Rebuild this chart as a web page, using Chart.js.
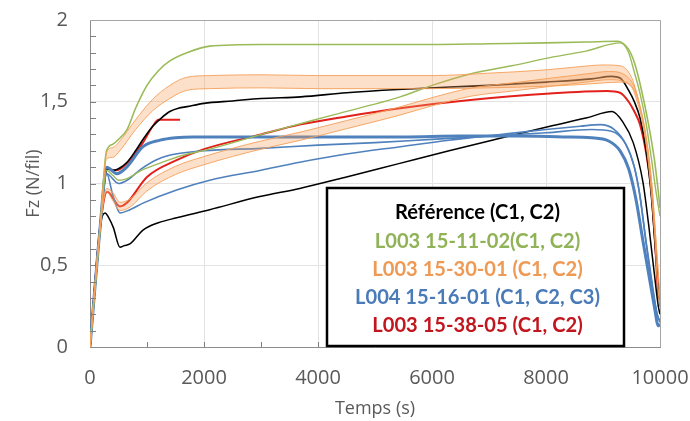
<!DOCTYPE html>
<html><head><meta charset="utf-8">
<script src="https://cdn.jsdelivr.net/npm/chart.js@4.4.1/dist/chart.umd.min.js"></script>
<style>html,body{margin:0;padding:0;background:#fff;}#wrap{width:690px;height:421px;position:relative;}</style>
</head><body><div id="wrap"><canvas id="c" width="690" height="421"></canvas></div>
<script>
// ---- tick labels / categories ----
const xTickValues = [0, 2000, 4000, 6000, 8000, 10000];
const yTickValues = [0, 0.5, 1, 1.5, 2];
const legendLabels = ['Référence (C1, C2)', 'L003 15-11-02(C1, C2)', 'L003 15-30-01 (C1, C2)', 'L004 15-16-01 (C1, C2, C3)', 'L003 15-38-05 (C1, C2)'];

// ---- Référence (black) ----
const refAT = [0,180,260,300,400,500,650,800,950,1100,1250,1400,1550,1700,2000,2500,3000,3700,4500,5400,6300,7000,8000,8800,9150,9300,9450,9550,9650,9750,9850,9930,10000];
const refAF = [0,0.74,1.02,1.09,1.08,1.09,1.13,1.2,1.28,1.35,1.40,1.44,1.46,1.47,1.49,1.505,1.52,1.53,1.555,1.575,1.59,1.60,1.62,1.64,1.655,1.645,1.57,1.50,1.40,1.22,0.92,0.55,0.25];
const refBT = [0,180,263,330,410,526,600,700,930,1200,1520,2100,2980,3680,4500,5400,6300,7000,8070,8700,9160,9350,9530,9700,9800,9900,9970,10000];
const refBF = [0,0.74,0.82,0.79,0.73,0.61,0.62,0.63,0.715,0.76,0.79,0.84,0.92,0.97,1.04,1.12,1.20,1.26,1.35,1.40,1.44,1.375,1.25,1.01,0.75,0.45,0.25,0.2];

// ---- L003 15-11-02 (green) ----
const gAT = [0,180,290,400,500,650,800,1000,1200,1400,1700,2100,3000,4000,5000,6000,7000,8000,8700,9250,9450,9550,9650,9800,9900,9970,10000];
const gAF = [0,0.74,1.2,1.24,1.27,1.33,1.46,1.6,1.69,1.75,1.80,1.84,1.85,1.85,1.85,1.85,1.855,1.86,1.865,1.87,1.82,1.74,1.61,1.36,1.15,0.95,0.85];
const gBT = [0,180,290,400,500,650,900,1230,1600,2100,3100,4270,5440,6000,6670,7400,8070,8700,9300,9450,9550,9650,9750,9850,9930,10000];
const gBF = [0,0.74,1.08,1.05,1.02,1.03,1.08,1.125,1.17,1.21,1.31,1.42,1.53,1.60,1.67,1.72,1.77,1.81,1.86,1.80,1.68,1.55,1.38,1.15,0.95,0.80];

// ---- L003 15-30-01 (orange, oscillating: upper / lower envelope) ----
const oAT  = [0,180,290,400,500,800,1100,1400,1700,2100,3000,4000,5000,6000,7000,8000,8600,9000,9300,9500,9600,9700,9800,9900,9960,10000];
const oAHi = [0,0.74,1.19,1.22,1.25,1.39,1.515,1.60,1.65,1.66,1.665,1.66,1.66,1.66,1.675,1.695,1.715,1.725,1.72,1.65,1.54,1.38,1.13,0.72,0.38,0.25];
const oALo = [0,0.74,1.15,1.16,1.19,1.33,1.445,1.52,1.57,1.58,1.585,1.58,1.58,1.58,1.585,1.595,1.605,1.615,1.62,1.59,1.50,1.36,1.11,0.72,0.38,0.25];
const oBT  = [0,180,293,400,526,700,1000,1500,2000,2500,3000,3700,4500,5400,6000,6700,7400,8100,8700,9100,9400,9550,9650,9750,9850,9930,10000];
const oBHi = [0,0.74,0.97,0.945,0.885,0.905,1.005,1.105,1.165,1.215,1.26,1.315,1.385,1.465,1.525,1.585,1.615,1.645,1.67,1.685,1.66,1.59,1.475,1.30,1.02,0.65,0.3];
const oBLo = [0,0.74,0.95,0.895,0.835,0.855,0.955,1.055,1.115,1.165,1.21,1.265,1.335,1.415,1.475,1.535,1.565,1.595,1.62,1.635,1.62,1.57,1.465,1.30,1.02,0.65,0.3];

// ---- L004 15-16-01 (blue) ----
const bAT = [0,180,293,470,643,930,1230,1500,1810,2500,3500,4500,5500,6500,7500,8300,8800,9100,9300,9450,9580,9700,9800,9900,9970,10000];
const bAF = [0,0.74,1.10,1.06,1.10,1.225,1.265,1.28,1.285,1.285,1.285,1.285,1.285,1.29,1.29,1.285,1.28,1.26,1.2,1.09,0.9,0.65,0.45,0.25,0.13,0.14];
const bBT = [0,180,290,500,650,900,1200,1500,2000,3000,4000,5000,6000,7000,8000,8800,9150,9400,9550,9650,9750,9850,9950,10000];
const bBF = [0,0.74,1.06,1.00,1.02,1.09,1.15,1.18,1.20,1.215,1.235,1.25,1.27,1.29,1.31,1.33,1.32,1.24,1.10,0.92,0.66,0.42,0.2,0.16];
const bCT = [0,180,293,400,526,700,930,1520,2100,2980,3680,4500,5440,6300,7200,8000,8600,8950,9200,9400,9550,9650,9750,9850,9950,10000];
const bCF = [0,0.74,1.06,0.93,0.82,0.84,0.88,0.96,1.02,1.08,1.13,1.18,1.225,1.265,1.30,1.33,1.35,1.36,1.33,1.24,1.10,0.92,0.65,0.40,0.2,0.15];

// ---- L003 15-38-05 (red) ----
const rAT = [0,180,290,470,640,930,1100,1200,1580];
const rAF = [0,0.75,1.09,1.08,1.12,1.25,1.35,1.39,1.39];
const rBT = [0,180,300,526,643,1000,1500,2000,3000,3680,4500,5440,6670,8070,9070,9300,9450,9550,9650,9750,9850,9920,9970,10000];
const rBF = [0,0.74,0.95,0.86,0.88,1.04,1.14,1.21,1.30,1.36,1.41,1.46,1.51,1.55,1.565,1.555,1.50,1.44,1.36,1.20,0.95,0.6,0.32,0.3];

const pts = (T, F) => T.map((t, i) => ({x: t, y: F[i]}));

const GREEN = '#9BBB59', BLUE = '#4F81BD', RED = '#E3211C', BLACK = '#000000';
const OR_LINE = 'rgba(245,160,90,0.9)', OR_FILL = 'rgba(245,160,90,0.33)';
const line = (data, color, w, extra) => Object.assign({
  data, borderColor: color, borderWidth: w, pointRadius: 0, fill: false,
  cubicInterpolationMode: 'monotone', backgroundColor: color
}, extra || {});

const datasets = [
  line(pts(oAT, oAHi), OR_LINE, 1),
  line(pts(oAT, oALo), OR_LINE, 1, {fill: '-1', backgroundColor: OR_FILL}),
  line(pts(oBT, oBHi), OR_LINE, 1),
  line(pts(oBT, oBLo), OR_LINE, 1, {fill: '-1', backgroundColor: OR_FILL}),
  line(pts(gAT, gAF), GREEN, 1.6),
  line(pts(gBT, gBF), GREEN, 1.4),
  line(pts(bAT, bAF), BLUE, 3),
  line(pts(bBT, bBF), BLUE, 1.6),
  line(pts(bCT, bCF), BLUE, 1.6),
  line(pts(refAT, refAF), BLACK, 1.6),
  line(pts(refBT, refBF), BLACK, 1.5),
  line(pts(rBT, rBF), RED, 2),
  line(pts(rAT, rAF), RED, 1.8),
];

const legendColors = ['#000000', '#8FB356', '#EE9A55', '#4A7BB7', '#C2161E'];

const decor = {
  id: 'decor',
  afterDatasetsDraw(chart) {
    const {ctx, chartArea: a, scales: {x, y}} = chart;
    ctx.save();
    ctx.strokeStyle = '#a6a6a6'; ctx.lineWidth = 1;
    ctx.beginPath();
    ctx.moveTo(a.left, a.top + 0.5); ctx.lineTo(a.right + 0.5, a.top + 0.5); ctx.lineTo(a.right + 0.5, a.bottom);
    ctx.stroke();
    ctx.strokeStyle = '#7f7f7f'; ctx.beginPath();
    for (let k = 1; k < 20; k++) {
      const py = Math.round(y.getPixelForValue(k / 10)) + 0.5;
      ctx.moveTo(a.left, py); ctx.lineTo(a.left + 6, py);
    }
    for (let k = 1; k < 10; k++) {
      const px = Math.round(x.getPixelForValue(k * 1000)) + 0.5;
      ctx.moveTo(px, a.bottom); ctx.lineTo(px, a.bottom - 5);
    }
    ctx.stroke();
    const bx = 327, by = 188, bw = 297, bh = 158;
    ctx.fillStyle = '#ffffff'; ctx.fillRect(bx, by, bw, bh);
    ctx.strokeStyle = '#000'; ctx.lineWidth = 2.5; ctx.strokeRect(bx, by, bw, bh);
    ctx.font = 'bold 18px Lato';
    const w4 = ctx.measureText(legendLabels[3]).width;
    const fs = 18 * 245 / w4;
    ctx.font = 'bold ' + fs.toFixed(2) + 'px Lato';
    ctx.textAlign = 'center'; ctx.textBaseline = 'middle';
    legendLabels.forEach((t, i) => {
      ctx.fillStyle = legendColors[i];
      ctx.fillText(t, bx + bw / 2 + 2, 213 + i * 28.2);
    });
    ctx.restore();
  }
};

const fmt = v => String(v).replace('.', ',');
const tickFont = {family: "'Open Sans', sans-serif", size: 20};
const titleFont = {family: "'Open Sans', sans-serif", size: 18};

new Chart(document.getElementById('c'), {
  type: 'line',
  data: {datasets},
  plugins: [decor],
  options: {
    responsive: false, animation: false, devicePixelRatio: 1,
    layout: {padding: {top: 20, right: 30, left: 0, bottom: 0}},
    plugins: {legend: {display: false}, tooltip: {enabled: false}},
    scales: {
      x: {
        type: 'linear', min: 0, max: 10000,
        afterBuildTicks: s => { s.ticks = xTickValues.map(v => ({value: v})); },
        afterFit: s => { s.height = 74; s.paddingLeft = 0; s.paddingRight = 0; },
        ticks: {color: '#595959', font: tickFont, padding: 19, maxRotation: 0, callback: v => fmt(v)},
        grid: {color: '#e3e3e3', drawTicks: false},
        border: {color: '#8c8c8c'},
        title: {display: true, text: 'Temps (s)', color: '#595959', font: titleFont, padding: {top: 0, bottom: 1}}
      },
      y: {
        min: 0, max: 2,
        afterBuildTicks: s => { s.ticks = yTickValues.map(v => ({value: v})); },
        afterFit: s => { s.width = 90; s.paddingTop = 0; s.paddingBottom = 0; },
        ticks: {color: '#595959', font: tickFont, padding: 22, callback: v => fmt(v)},
        grid: {color: '#e3e3e3', drawTicks: false},
        border: {color: '#8c8c8c'},
        title: {display: true, text: 'Fz (N/fil)', color: '#595959', font: titleFont, padding: {top: 23, bottom: 0}}
      }
    }
  }
});
</script></body></html>
